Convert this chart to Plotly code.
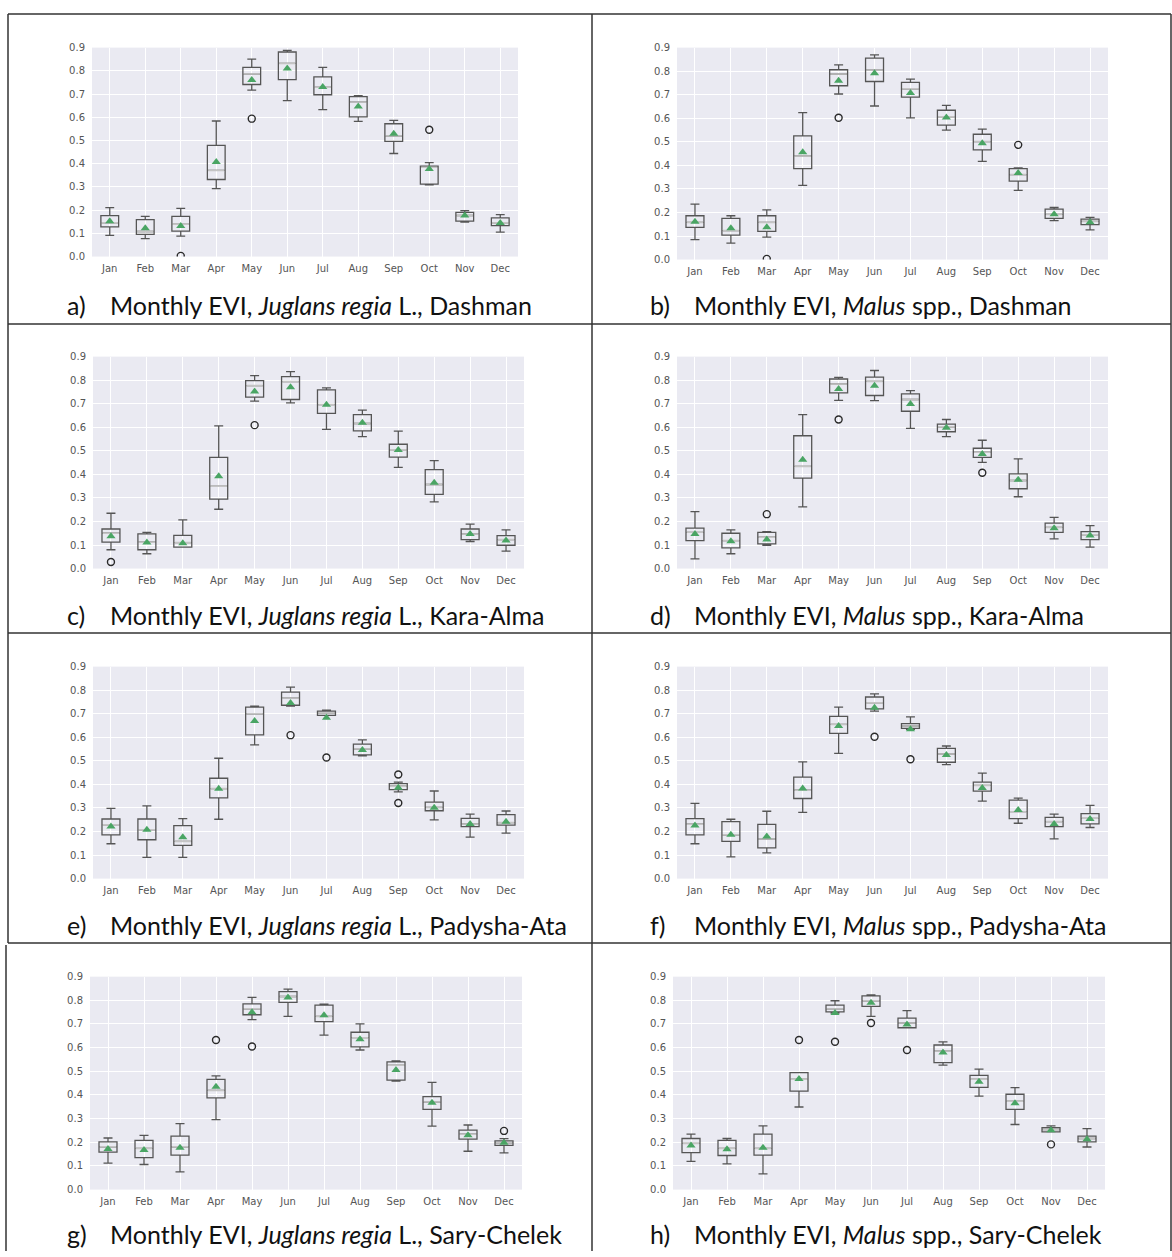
import plotly.graph_objects as go

MONTHS = ["Jan", "Feb", "Mar", "Apr", "May", "Jun", "Jul", "Aug", "Sep", "Oct", "Nov", "Dec"]
Y_TICKS = [0.0, 0.1, 0.2, 0.3, 0.4, 0.5, 0.6, 0.7, 0.8, 0.9]

# ---- a) Juglans regia L., Dashman
A_LO = [0.091, 0.077, 0.088, 0.293, 0.717, 0.672, 0.633, 0.582, 0.444, 0.309, 0.149, 0.105]
A_Q1 = [0.128, 0.096, 0.110, 0.332, 0.741, 0.762, 0.697, 0.602, 0.496, 0.312, 0.153, 0.133]
A_MED = [0.145, 0.108, 0.140, 0.371, 0.786, 0.832, 0.730, 0.666, 0.519, 0.385, 0.177, 0.145]
A_Q3 = [0.176, 0.159, 0.173, 0.479, 0.815, 0.881, 0.774, 0.689, 0.572, 0.390, 0.190, 0.167]
A_HI = [0.211, 0.173, 0.208, 0.584, 0.850, 0.888, 0.815, 0.693, 0.587, 0.405, 0.198, 0.181]
A_MEAN = [0.152, 0.122, 0.132, 0.407, 0.761, 0.810, 0.730, 0.646, 0.529, 0.377, 0.177, 0.145]
A_OUT_M = ["Mar", "May", "Oct"]
A_OUT_V = [0.003, 0.594, 0.546]

# ---- b) Malus spp., Dashman
B_LO = [0.085, 0.070, 0.095, 0.315, 0.703, 0.652, 0.602, 0.550, 0.417, 0.294, 0.165, 0.126]
B_Q1 = [0.137, 0.104, 0.120, 0.386, 0.738, 0.756, 0.690, 0.571, 0.466, 0.333, 0.175, 0.148]
B_MED = [0.158, 0.123, 0.158, 0.440, 0.788, 0.805, 0.725, 0.606, 0.501, 0.361, 0.192, 0.162]
B_Q3 = [0.186, 0.175, 0.186, 0.525, 0.806, 0.855, 0.752, 0.634, 0.532, 0.386, 0.214, 0.172]
B_HI = [0.235, 0.186, 0.211, 0.624, 0.827, 0.869, 0.766, 0.655, 0.554, 0.389, 0.221, 0.179]
B_MEAN = [0.161, 0.133, 0.137, 0.456, 0.759, 0.791, 0.707, 0.603, 0.494, 0.368, 0.192, 0.158]
B_OUT_M = ["Mar", "May", "Oct"]
B_OUT_V = [0.003, 0.602, 0.487]

# ---- c) Juglans regia L., Kara-Alma
C_LO = [0.080, 0.063, 0.091, 0.252, 0.711, 0.704, 0.591, 0.560, 0.430, 0.283, 0.115, 0.074]
C_Q1 = [0.112, 0.080, 0.091, 0.295, 0.728, 0.718, 0.659, 0.585, 0.473, 0.315, 0.123, 0.099]
C_MED = [0.150, 0.112, 0.110, 0.350, 0.777, 0.794, 0.696, 0.616, 0.504, 0.357, 0.147, 0.123]
C_Q3 = [0.168, 0.147, 0.141, 0.472, 0.798, 0.815, 0.759, 0.654, 0.528, 0.420, 0.168, 0.140]
C_HI = [0.235, 0.154, 0.207, 0.606, 0.819, 0.836, 0.767, 0.673, 0.584, 0.458, 0.189, 0.164]
C_MEAN = [0.137, 0.111, 0.108, 0.392, 0.752, 0.770, 0.696, 0.619, 0.503, 0.364, 0.147, 0.119]
C_OUT_M = ["Jan", "May"]
C_OUT_V = [0.028, 0.609]

# ---- d) Malus spp., Kara-Alma
D_LO = [0.041, 0.063, 0.099, 0.262, 0.714, 0.713, 0.595, 0.560, 0.451, 0.305, 0.126, 0.091]
D_Q1 = [0.119, 0.088, 0.105, 0.384, 0.746, 0.735, 0.668, 0.581, 0.472, 0.339, 0.154, 0.123]
D_MED = [0.154, 0.119, 0.133, 0.434, 0.784, 0.795, 0.718, 0.602, 0.494, 0.374, 0.175, 0.143]
D_Q3 = [0.172, 0.150, 0.154, 0.564, 0.805, 0.813, 0.742, 0.613, 0.511, 0.402, 0.193, 0.157]
D_HI = [0.242, 0.164, 0.157, 0.654, 0.812, 0.841, 0.756, 0.633, 0.545, 0.466, 0.217, 0.182]
D_MEAN = [0.147, 0.116, 0.123, 0.462, 0.763, 0.776, 0.699, 0.598, 0.486, 0.377, 0.171, 0.140]
D_OUT_M = ["Mar", "May", "Sep"]
D_OUT_V = [0.231, 0.633, 0.407]

# ---- e) Juglans regia L., Padysha-Ata
E_LO = [0.148, 0.090, 0.090, 0.252, 0.568, 0.732, 0.693, 0.521, 0.368, 0.249, 0.176, 0.193]
E_Q1 = [0.186, 0.165, 0.141, 0.343, 0.610, 0.736, 0.693, 0.525, 0.378, 0.288, 0.221, 0.227]
E_MED = [0.228, 0.207, 0.158, 0.382, 0.700, 0.767, 0.704, 0.550, 0.392, 0.302, 0.232, 0.238]
E_Q3 = [0.253, 0.253, 0.225, 0.426, 0.728, 0.792, 0.711, 0.571, 0.403, 0.325, 0.256, 0.272]
E_HI = [0.298, 0.309, 0.255, 0.511, 0.732, 0.813, 0.715, 0.589, 0.410, 0.372, 0.274, 0.287]
E_MEAN = [0.221, 0.207, 0.176, 0.381, 0.669, 0.746, 0.683, 0.546, 0.386, 0.301, 0.232, 0.241]
E_OUT_M = ["Jun", "Jul", "Sep", "Sep"]
E_OUT_V = [0.609, 0.514, 0.442, 0.321]

# ---- f) Malus spp., Padysha-Ata
F_LO = [0.148, 0.092, 0.109, 0.281, 0.532, 0.711, 0.634, 0.484, 0.329, 0.235, 0.169, 0.217]
F_Q1 = [0.186, 0.158, 0.130, 0.340, 0.617, 0.721, 0.638, 0.494, 0.371, 0.255, 0.221, 0.232]
F_MED = [0.231, 0.186, 0.168, 0.375, 0.655, 0.746, 0.648, 0.529, 0.396, 0.284, 0.242, 0.256]
F_Q3 = [0.255, 0.242, 0.230, 0.431, 0.689, 0.771, 0.658, 0.553, 0.410, 0.333, 0.260, 0.276]
F_HI = [0.319, 0.252, 0.286, 0.496, 0.728, 0.784, 0.687, 0.563, 0.448, 0.342, 0.274, 0.311]
F_MEAN = [0.225, 0.186, 0.179, 0.382, 0.648, 0.725, 0.634, 0.525, 0.385, 0.291, 0.232, 0.253]
F_OUT_M = ["Jun", "Jul"]
F_OUT_V = [0.602, 0.507]

# ---- g) Juglans regia L., Sary-Chelek
G_LO = [0.112, 0.106, 0.075, 0.296, 0.718, 0.732, 0.653, 0.590, 0.458, 0.268, 0.162, 0.155]
G_Q1 = [0.158, 0.135, 0.146, 0.388, 0.739, 0.791, 0.710, 0.603, 0.463, 0.339, 0.213, 0.187]
G_MED = [0.181, 0.174, 0.181, 0.419, 0.764, 0.816, 0.732, 0.642, 0.526, 0.370, 0.234, 0.198]
G_Q3 = [0.202, 0.208, 0.226, 0.466, 0.785, 0.837, 0.780, 0.665, 0.540, 0.393, 0.251, 0.206]
G_HI = [0.218, 0.229, 0.279, 0.481, 0.812, 0.847, 0.784, 0.700, 0.544, 0.453, 0.273, 0.215]
G_MEAN = [0.172, 0.167, 0.177, 0.435, 0.749, 0.812, 0.737, 0.635, 0.505, 0.367, 0.230, 0.198]
G_OUT_M = ["Apr", "May", "Dec"]
G_OUT_V = [0.632, 0.605, 0.248]

# ---- h) Malus spp., Sary-Chelek
H_LO = [0.119, 0.109, 0.066, 0.349, 0.746, 0.732, 0.684, 0.526, 0.395, 0.275, 0.244, 0.180]
H_Q1 = [0.156, 0.144, 0.146, 0.416, 0.751, 0.774, 0.684, 0.537, 0.432, 0.339, 0.244, 0.202]
H_MED = [0.195, 0.174, 0.174, 0.467, 0.763, 0.798, 0.704, 0.586, 0.467, 0.374, 0.254, 0.216]
H_Q3 = [0.216, 0.208, 0.234, 0.494, 0.780, 0.819, 0.725, 0.611, 0.483, 0.403, 0.262, 0.226]
H_HI = [0.234, 0.216, 0.269, 0.494, 0.798, 0.823, 0.756, 0.624, 0.509, 0.431, 0.269, 0.258]
H_MEAN = [0.186, 0.170, 0.177, 0.467, 0.746, 0.790, 0.698, 0.579, 0.456, 0.365, 0.251, 0.213]
H_OUT_M = ["Apr", "May", "Jun", "Jul", "Nov"]
H_OUT_V = [0.632, 0.625, 0.704, 0.590, 0.191]

CAPTIONS = [
    ("a)", "Monthly EVI, <i>Juglans regia</i> L., Dashman"),
    ("b)", "Monthly EVI, <i>Malus</i> spp., Dashman"),
    ("c)", "Monthly EVI, <i>Juglans regia</i> L., Kara-Alma"),
    ("d)", "Monthly EVI, <i>Malus</i> spp., Kara-Alma"),
    ("e)", "Monthly EVI, <i>Juglans regia</i> L., Padysha-Ata"),
    ("f)", "Monthly EVI, <i>Malus</i> spp., Padysha-Ata"),
    ("g)", "Monthly EVI, <i>Juglans regia</i> L., Sary-Chelek"),
    ("h)", "Monthly EVI, <i>Malus</i> spp., Sary-Chelek"),
]

PANELS = [
    (A_LO, A_Q1, A_MED, A_Q3, A_HI, A_MEAN, A_OUT_M, A_OUT_V),
    (B_LO, B_Q1, B_MED, B_Q3, B_HI, B_MEAN, B_OUT_M, B_OUT_V),
    (C_LO, C_Q1, C_MED, C_Q3, C_HI, C_MEAN, C_OUT_M, C_OUT_V),
    (D_LO, D_Q1, D_MED, D_Q3, D_HI, D_MEAN, D_OUT_M, D_OUT_V),
    (E_LO, E_Q1, E_MED, E_Q3, E_HI, E_MEAN, E_OUT_M, E_OUT_V),
    (F_LO, F_Q1, F_MED, F_Q3, F_HI, F_MEAN, F_OUT_M, F_OUT_V),
    (G_LO, G_Q1, G_MED, G_Q3, G_HI, G_MEAN, G_OUT_M, G_OUT_V),
    (H_LO, H_Q1, H_MED, H_Q3, H_HI, H_MEAN, H_OUT_M, H_OUT_V),
]

# ---- layout geometry (pixels)
W, H = 1172, 1257
PLOT_BOXES = [  # x0, x1, y0, y1 (pixels from top-left)
    (92, 518, 42, 253), (677, 1108, 42, 256),
    (93, 524, 354, 568), (677, 1108, 354, 568),
    (93, 524, 667, 881), (677, 1108, 667, 881),
    (90, 522, 980, 1195), (673, 1105, 980, 1195),
]
CAPTION_Y = [302, 302, 615, 615, 928, 928, 1240, 1240]
CAPTION_LABEL_X = [65, 648]
CAPTION_TEXT_X = [108, 692]

BOX_LINE = "#555555"
MEDIAN_COLOR = "#c4c4c4"
MEAN_COLOR = "#4aa564"
BG = "#EAEAF2"

positions = list(range(1, 13))
pos_of = {m: i + 1 for i, m in enumerate(MONTHS)}

fig = go.Figure()
layout = dict(
    width=W, height=H, margin=dict(l=0, r=0, t=0, b=0),
    paper_bgcolor="white", plot_bgcolor=BG, showlegend=False, boxmode="overlay",
)

def px_x(v):
    return v / W

def px_y(v):
    return 1 - v / H

for i, (lo, q1, med, q3, hi, mean, out_m, out_v) in enumerate(PANELS):
    n = i + 1
    xa = "x" if n == 1 else f"x{n}"
    ya = "y" if n == 1 else f"y{n}"
    x0, x1, y0, y1 = PLOT_BOXES[i]

    fig.add_trace(go.Box(
        x=positions, q1=q1, median=med, q3=q3, lowerfence=lo, upperfence=hi,
        width=0.5, whiskerwidth=0.5, boxpoints=False,
        line=dict(color=BOX_LINE, width=1.3), fillcolor="rgba(0,0,0,0)",
        xaxis=xa, yaxis=ya, hoverinfo="skip",
    ))
    # lighter median lines
    mx, my = [], []
    for p, m in zip(positions, med):
        mx += [p - 0.25 + 0.02, p + 0.25 - 0.02, None]
        my += [m, m, None]
    fig.add_trace(go.Scatter(
        x=mx, y=my, mode="lines", line=dict(color=MEDIAN_COLOR, width=1.6),
        xaxis=xa, yaxis=ya, hoverinfo="skip",
    ))
    # means
    fig.add_trace(go.Scatter(
        x=positions, y=mean, mode="markers",
        marker=dict(symbol="triangle-up", size=8, color=MEAN_COLOR),
        xaxis=xa, yaxis=ya, hoverinfo="skip",
    ))
    # outliers
    fig.add_trace(go.Scatter(
        x=[pos_of[m] for m in out_m], y=out_v, mode="markers",
        marker=dict(symbol="circle-open", size=7, color="#2a2a2a", line=dict(width=1.4)),
        xaxis=xa, yaxis=ya, hoverinfo="skip",
    ))

    key_x = "xaxis" if n == 1 else f"xaxis{n}"
    key_y = "yaxis" if n == 1 else f"yaxis{n}"
    layout[key_x] = dict(
        domain=[px_x(x0), px_x(x1)], anchor=ya, range=[0.5, 12.5],
        tickmode="array", tickvals=positions, ticktext=MONTHS,
        showgrid=True, gridcolor="white", gridwidth=1, zeroline=False,
        showline=False, ticks="", ticklabelstandoff=4,
        tickfont=dict(family="DejaVu Sans", size=10, color="#555555"),
    )
    layout[key_y] = dict(
        domain=[px_y(y1), px_y(y0)], anchor=xa, range=[0, 0.9],
        tickmode="array", tickvals=Y_TICKS, ticktext=[f"{v:.1f}" for v in Y_TICKS],
        showgrid=True, gridcolor="white", gridwidth=1, zeroline=False,
        showline=False, ticks="", ticklabelstandoff=6,
        tickfont=dict(family="DejaVu Sans", size=10, color="#555555"),
    )

# captions
annotations = []
for i, (lab, txt) in enumerate(CAPTIONS):
    col = i % 2
    yv = px_y(CAPTION_Y[i])
    annotations.append(dict(
        text=lab, x=px_x(CAPTION_LABEL_X[col]), y=yv, xref="paper", yref="paper",
        xanchor="left", yanchor="middle", showarrow=False,
        font=dict(family="Lato", size=25, color="#111111"),
    ))
    annotations.append(dict(
        text=txt, x=px_x(CAPTION_TEXT_X[col]), y=yv, xref="paper", yref="paper",
        xanchor="left", yanchor="middle", showarrow=False,
        font=dict(family="Lato", size=25, color="#111111"),
    ))
layout["annotations"] = annotations

# table borders
LC = "#333333"
LW = 1.5
def hline(y, xa0=8, xa1=1171):
    return dict(type="line", xref="paper", yref="paper", x0=px_x(xa0), x1=px_x(xa1),
                y0=px_y(y), y1=px_y(y), line=dict(color=LC, width=LW))

def vline(x, ya0, ya1):
    return dict(type="line", xref="paper", yref="paper", x0=px_x(x), x1=px_x(x),
                y0=px_y(ya0), y1=px_y(ya1), line=dict(color=LC, width=LW))

layout["shapes"] = [
    hline(8), hline(321), hline(633), hline(946),
    vline(8, 8, 946), vline(6, 948, 1257),
    vline(592, 8, 1257), vline(1171, 8, 1257),
]

fig.update_layout(**layout)
fig.write_html(
    "out.html",
    config={"displayModeBar": False},
    post_script="document.body.style.margin='0';document.body.style.overflow='hidden';",
)
